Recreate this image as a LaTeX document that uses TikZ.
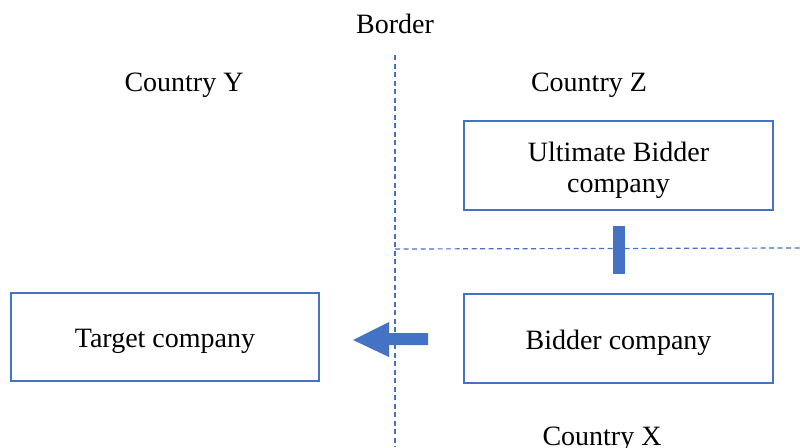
\documentclass[tikz,border=0pt]{standalone}
\usepackage{fontspec}
\setmainfont{Liberation Serif}
\usetikzlibrary{positioning}
\definecolor{msblue}{HTML}{4472C4}
\begin{document}
\begin{tikzpicture}[x=1pt,y=-1pt,
  every node/.style={font=\fontsize{28}{31}\selectfont, text=black},
  entity/.style={draw=msblue, line width=2pt, fill=white, inner sep=0pt, align=center},
  oneline/.style={text height=21.6pt, text depth=0pt},
  borderline/.style={draw=msblue, line width=1.2pt, dash pattern=on 5pt off 3.5pt},
  label/.style={inner sep=0pt, anchor=base}]
  \useasboundingbox (0,0) rectangle (800,447);

  % border lines
  \coordinate (vtop) at (395,55);
  \coordinate (vbot) at (395,447);
  \coordinate (hleft) at (395,249);
  \coordinate (hright) at (800,248);
  \draw[borderline] (vtop) -- (vbot);
  \draw[borderline] (hleft) -- (hright);

  % region labels
  \node[label] (border) at (395,33) {Border};
  \node[label] (cy) at (184,91) {Country Y};
  \node[label] (cz) at (589,91) {Country Z};
  \node[label] (cx) at (602,445) {Country X};

  % companies
  \node[entity, minimum width=309pt, minimum height=89pt]
    (ultimate) at (618.5,165.5) {\rule{0pt}{28.6pt}Ultimate Bidder\\company};
  \node[entity, oneline, minimum width=309pt, minimum height=89pt] (bidder) at (618.5,338.5)
    {Bidder company};
  \node[entity, oneline, minimum width=308pt, minimum height=88pt] (target) at (165,337)
    {Target company};

  % ownership link between the two bidder levels
  \node[fill=msblue, minimum width=12pt, minimum height=48pt, inner sep=0pt] (link) at (619,250) {};

  % acquisition arrow
  \fill[msblue] (428,333) -- (389,333) -- (389,322) -- (353,340) -- (389,357) -- (389,345) -- (428,345) -- cycle;
\end{tikzpicture}
\end{document}
